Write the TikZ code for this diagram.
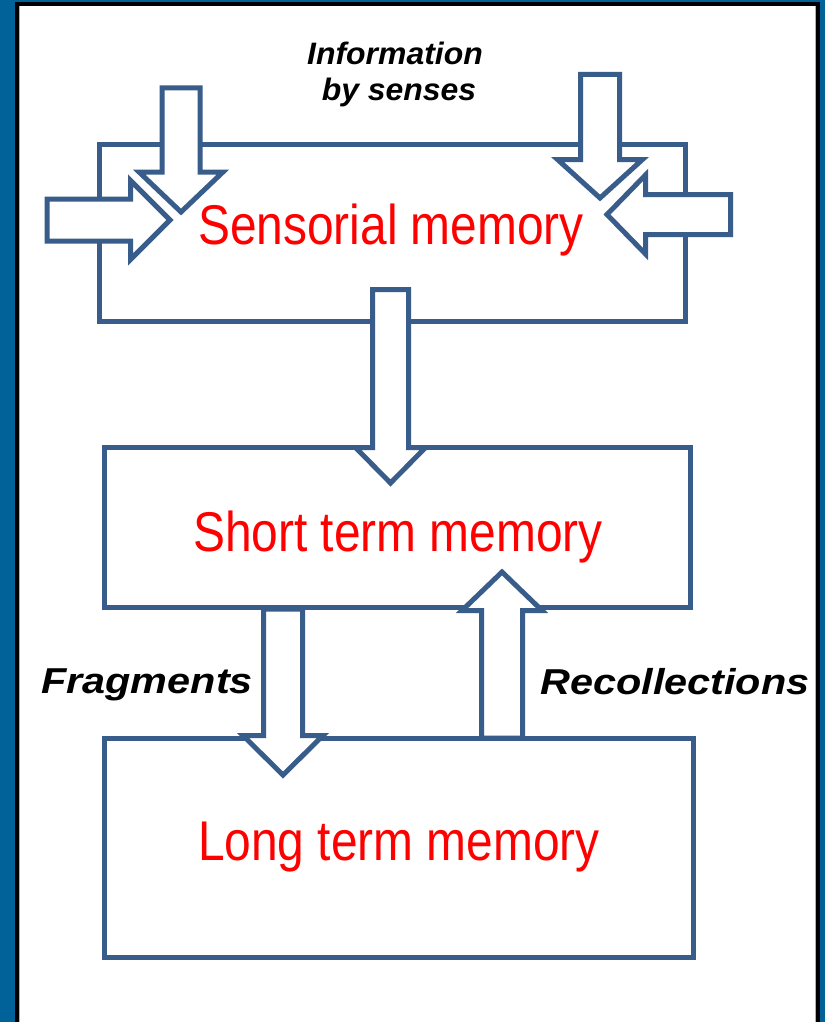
\documentclass[tikz,border=0pt]{standalone}
\usepackage{fontspec}
\setmainfont{Liberation Sans}
\newfontfamily\memfont[FakeStretch=0.855]{Liberation Sans}
\newfontfamily\lblfont[FakeStretch=1.15]{Liberation Sans}
\newfontfamily\infofont[FakeStretch=1.03]{Liberation Sans}
\definecolor{bandblue}{RGB}{0,98,153}
\definecolor{outl}{HTML}{385D8A}
\newcommand\darr[6]{%
  \filldraw[blockarrow] ({#1-#2},{#3}) -- ({#1+#2},{#3}) -- ({#1+#2},{#4}) -- ({#1+#5},{#4}) -- ({#1},{#6}) -- ({#1-#5},{#4}) -- ({#1-#2},{#4}) -- cycle;}
\newcommand\harr[6]{%
  \filldraw[blockarrow] ({#3},{#1-#2}) -- ({#3},{#1+#2}) -- ({#4},{#1+#2}) -- ({#4},{#1+#5}) -- ({#6},{#1}) -- ({#4},{#1-#5}) -- ({#4},{#1-#2}) -- cycle;}
\begin{document}
\begin{tikzpicture}[x=1pt,y=-1pt,
  membox/.style={draw=outl, line width=5pt, fill=white, inner sep=0pt, outer sep=0pt},
  blockarrow/.style={draw=outl, fill=white, line width=5pt, line join=miter},
  memtext/.style={anchor=base, inner sep=0pt, text=red, font=\memfont\fontsize{56}{60}\selectfont},
  lbltext/.style={anchor=base, inner sep=0pt, text=black, font=\lblfont\bfseries\itshape\fontsize{36}{40}\selectfont},
  infotext/.style={anchor=base, inner sep=0pt, text=black, font=\infofont\bfseries\itshape\fontsize{31}{36}\selectfont}]
\useasboundingbox (0,0) rectangle (825,1022);
% frame
\fill[white] (0,0) rectangle (825,1022);
\fill[bandblue] (0,0) rectangle (15,1022);
\fill[bandblue] (820,0) rectangle (825,1022);
\fill[bandblue] (0,0) rectangle (825,2);
\fill[black] (15,2) rectangle (19,1022);
\fill[black] (15,2) rectangle (820,6);
\fill[black] (816,2) rectangle (820,1022);
\fill[black!30] (815,6) rectangle (816,1022);
\fill[black!30] (19,6) rectangle (20,1022);
% boxes
\node[membox, minimum width=586pt, minimum height=177pt] (sens) at (392,232.5) {};
\node[membox, minimum width=586pt, minimum height=160pt] (short) at (397,527) {};
\node[membox, minimum width=589pt, minimum height=219pt] (long) at (398.5,847.5) {};
% arrows into sensorial memory
\darr{181}{19}{88}{172}{42}{212}
\darr{600}{19.5}{74.5}{159.5}{42.5}{198}
\harr{220}{21}{47}{130.5}{39.5}{170}
\harr{214.5}{20}{730.5}{645.5}{39.5}{607}
% sensorial -> short
\darr{390.5}{18}{289.5}{447.5}{35}{483}
% short -> long (fragments)
\darr{283}{19.5}{609}{735.5}{40}{775}
% long -> short (recollections)
\darr{502}{20.5}{738}{610.5}{40}{572}
% texts
\node[infotext] (info1) at (395,65) {Information};
\node[infotext] (info2) at (399,101) {by senses};
\node[memtext] (senst) at (391,244) {Sensorial memory};
\node[memtext] (shortt) at (398,551) {Short term memory};
\node[memtext] (longt) at (399,860) {Long term memory};
\node[lbltext] (frag) at (147,693) {Fragments};
\node[lbltext] (recol) at (675,694) {Recollections};
\end{tikzpicture}
\end{document}
